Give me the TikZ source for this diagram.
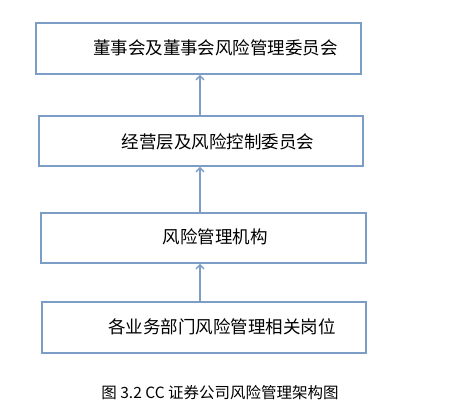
\documentclass[tikz,border=0pt]{standalone}
\usepackage{fontspec}
\newfontfamily\cjk{Noto Sans CJK SC}
\usetikzlibrary{arrows.meta}
\definecolor{boxblue}{RGB}{124,157,198}

\begin{document}
\begin{tikzpicture}[x=1pt, y=1pt,
  box/.style={draw=boxblue, line width=1.6pt, minimum height=50pt},
  txt/.style={font=\cjk\fontsize{17.5}{20}\selectfont},
  up/.style={draw=boxblue, line width=1.4pt, -{Straight Barb[length=4pt, width=8pt]}}]
  \useasboundingbox (0,0) rectangle (456,-417);
  % boxes
  \node[box, minimum width=325pt, minimum height=51pt] (b1) at (198.5,-48.5) {};
  \node[box, minimum width=324pt] (b2) at (201,-141) {};
  \node[box, minimum width=325pt] (b3) at (203.5,-238) {};
  \node[box, minimum width=324pt, minimum height=51pt] (b4) at (204,-327.5) {};
  % texts
  \node[txt] (t1) at (215.5,-48) {董事会及董事会风险管理委员会};
  \node[txt] (t2) at (218,-142) {经营层及风险控制委员会};
  \node[txt] (t3) at (215,-237) {风险管理机构};
  \node[txt] (t4) at (222,-327) {各业务部门风险管理相关岗位};
  % arrows
  \coordinate (ax) at (200,0);
  \foreach \lo/\hi in {b2/b1, b3/b2, b4/b3} { \draw[up] (\lo.north -| ax) -- (\hi.south -| ax); }
  \node[font=\cjk\fontsize{15.5}{18}\selectfont] (cap) at (220,-393) {图 3.2 CC 证券公司风险管理架构图};
\end{tikzpicture}
\end{document}
